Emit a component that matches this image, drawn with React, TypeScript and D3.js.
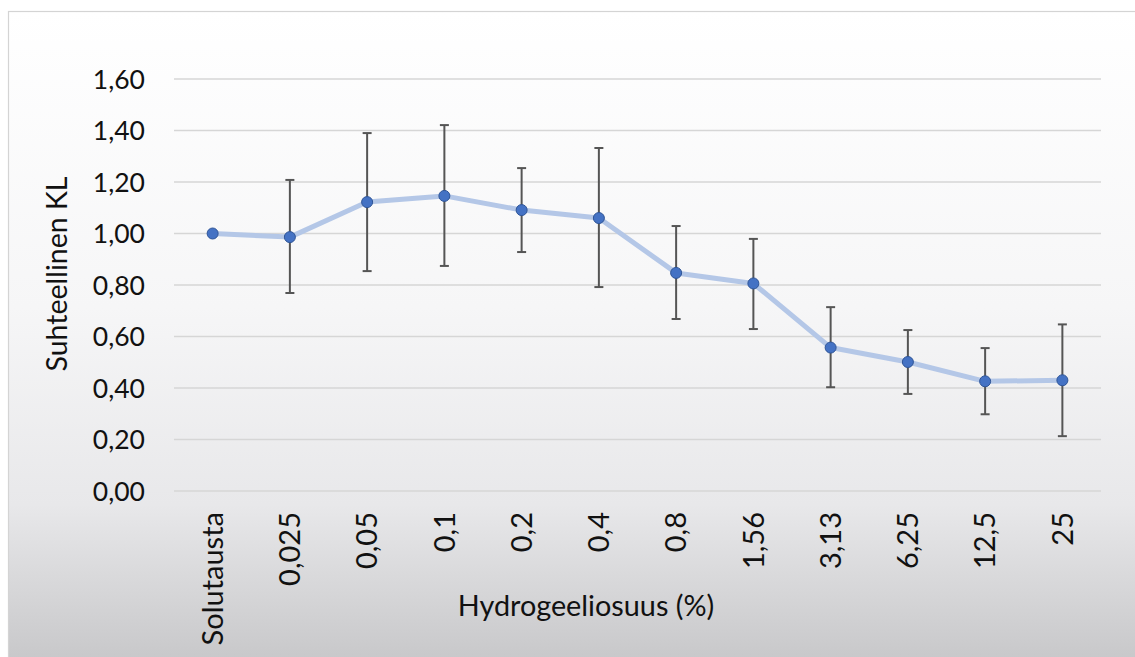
import React from "react";
import * as d3 from "d3";

// Relative KL by hydrogel share, mean with error bars
const categories = ["Solutausta", "0,025", "0,05", "0,1", "0,2", "0,4", "0,8", "1,56", "3,13", "6,25", "12,5", "25"];
const means = [1.0, 0.986, 1.122, 1.146, 1.091, 1.06, 0.847, 0.806, 0.557, 0.501, 0.426, 0.43];
const errUpper = [null, 1.208, 1.39, 1.421, 1.254, 1.332, 1.029, 0.979, 0.714, 0.625, 0.555, 0.647];
const errLower = [null, 0.769, 0.854, 0.874, 0.928, 0.792, 0.668, 0.629, 0.403, 0.377, 0.298, 0.213];
const yTicks = [0, 0.2, 0.4, 0.6, 0.8, 1.0, 1.2, 1.4, 1.6];

const W = 1135;
const H = 657;
const FONT = "Lato, 'Open Sans', sans-serif";

export default function App() {
  const plot = { left: 174, right: 1101, top: 79, bottom: 491 };
  const x = d3.scaleBand<string>().domain(categories).range([plot.left, plot.right]);
  const y = d3.scaleLinear().domain([0, 1.6]).range([plot.bottom, plot.top]);
  const cx = (c: string) => (x(c) as number) + x.bandwidth() / 2;
  const fmt = (v: number) => v.toFixed(2).replace(".", ",");

  const line = d3
    .line<number>()
    .x((_, i) => cx(categories[i]))
    .y((d) => y(d));

  return (
    <svg
      width={W}
      height={H}
      style={{ position: "absolute", left: 0, top: 0, display: "block" }}
    >
      <defs>
        <linearGradient id="bg" x1="0" y1="0" x2="0" y2="1">
          <stop offset="0" stopColor="#ffffff" />
          <stop offset="0.45" stopColor="#f6f6f7" />
          <stop offset="0.75" stopColor="#e8e8ea" />
          <stop offset="1" stopColor="#c6c6c8" />
        </linearGradient>
      </defs>
      <rect x={0} y={0} width={W} height={H} fill="#ffffff" />
      <rect x={8.5} y={11.5} width={W} height={H} fill="url(#bg)" stroke="#d4d4d4" strokeWidth={1.2} />

      {/* horizontal gridlines and value labels */}
      {yTicks.map((t) => (
        <g key={t}>
          <line x1={plot.left} x2={plot.right} y1={y(t)} y2={y(t)} stroke="#d6d6d6" strokeWidth={1.3} />
          <text
            x={145}
            y={y(t)}
            dy="0.36em"
            textAnchor="end"
            fontFamily={FONT}
            fontSize={26.5}
            fill="#111"
          >
            {fmt(t)}
          </text>
        </g>
      ))}

      {/* category labels */}
      {categories.map((c) => (
        <text
          key={c}
          transform={`translate(${cx(c)},${512}) rotate(-90)`}
          dy="0.35em"
          textAnchor="end"
          fontFamily={FONT}
          fontSize={29}
          fill="#111"
        >
          {c}
        </text>
      ))}

      {/* axis titles */}
      <text x={586} y={616} textAnchor="middle" fontFamily={FONT} fontSize={28.8} fill="#111">
        Hydrogeeliosuus (%)
      </text>
      <text
        transform={`translate(${67},${274}) rotate(-90)`}
        textAnchor="middle"
        fontFamily={FONT}
        fontSize={28.5}
        fill="#111"
      >
        Suhteellinen KL
      </text>

      {/* series line */}
      <path d={line(means) ?? ""} fill="none" stroke="#b4c7e7" strokeWidth={5} strokeLinejoin="round" />

      {/* error bars */}
      {categories.map((c, i) => {
        const hi = errUpper[i];
        const lo = errLower[i];
        if (hi == null || lo == null) return null;
        const xc = cx(c);
        return (
          <g key={`e-${c}`} stroke="#555" strokeWidth={2}>
            <line x1={xc} x2={xc} y1={y(hi)} y2={y(lo)} />
            <line x1={xc - 4.5} x2={xc + 4.5} y1={y(hi)} y2={y(hi)} />
            <line x1={xc - 4.5} x2={xc + 4.5} y1={y(lo)} y2={y(lo)} />
          </g>
        );
      })}

      {/* markers */}
      {means.map((m, i) => (
        <circle
          key={`m-${i}`}
          cx={cx(categories[i])}
          cy={y(m)}
          r={5.5}
          fill="#4472c4"
          stroke="#2f5597"
          strokeWidth={1}
        />
      ))}
    </svg>
  );
}
